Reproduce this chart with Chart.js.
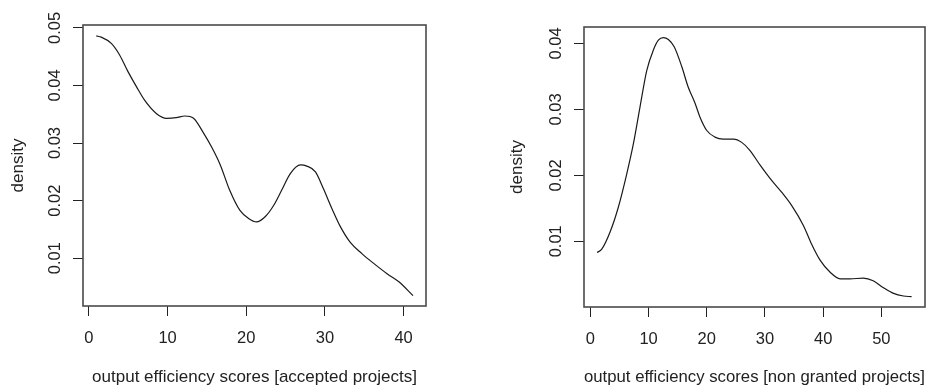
<!DOCTYPE html>
<html lang="en">
<head>
    <meta charset="UTF-8">
    <title>Output efficiency densities</title>
    <script src="https://cdn.jsdelivr.net/npm/chart.js"></script>
    <style>
        body {
            margin: 0;
            background: #fff;
            width: 931px;
            height: 389px;
            overflow: hidden;
        }
        #leftBox, #rightBox {
            position: absolute;
            top: 0;
        }
        #leftBox { left: 0; }
        #rightBox { left: 465px; }
    </style>
</head>
<body>
    <div id="leftBox"><canvas id="leftChart" width="465" height="389"></canvas></div>
    <div id="rightBox"><canvas id="rightChart" width="466" height="389"></canvas></div>

    <script>
        // accepted projects (density curve)
        const xLeft = [0.94, 1.57, 2.85, 3.9, 4.97, 6.04, 7.1, 8.6, 9.86, 11.1, 12.2, 13.3, 14.5, 15.6, 16.7, 17.9,
            19.2, 20.3, 21.3, 22.4, 23.5, 24.5, 25.6, 26.9, 27.7, 28.8, 29.8, 30.9, 32.0, 33.2, 34.7, 36.2, 37.9, 39.4, 41.2];
        const yLeft = [0.0486, 0.0484, 0.0473, 0.0453, 0.0424, 0.0398, 0.0374, 0.0351, 0.0343, 0.0344, 0.0347, 0.0343,
            0.0319, 0.0293, 0.0262, 0.0218, 0.0183, 0.0169, 0.0163, 0.0172, 0.0192, 0.0218, 0.0247, 0.0262, 0.0260,
            0.0250, 0.0221, 0.0186, 0.0154, 0.0128, 0.0108, 0.0091, 0.0073, 0.0059, 0.0035];

        // non granted projects
        const xRight = [1.15, 1.95, 3.38, 4.81, 6.24, 7.39, 8.53, 9.68, 10.82, 11.68, 12.54, 13.4, 14.4, 15.7, 16.8,
            18.0, 18.8, 20.0, 21.4, 22.85, 24.6, 26.0, 27.4, 29.2, 30.9, 32.9, 34.6, 36.6, 38.0, 39.5, 41.2, 42.9,
            44.6, 46.9, 48.6, 50.3, 52.1, 53.8, 55.2];
        const yRight = [0.0083, 0.0088, 0.0114, 0.0152, 0.0202, 0.0248, 0.0304, 0.0359, 0.0390, 0.0405, 0.0409, 0.0406,
            0.0395, 0.0365, 0.0334, 0.0309, 0.0289, 0.0268, 0.0258, 0.0255, 0.0255, 0.0250, 0.0238, 0.0215, 0.0195,
            0.0174, 0.0154, 0.0124, 0.0096, 0.0071, 0.0053, 0.0043, 0.0043, 0.0044, 0.0040, 0.0030, 0.0021, 0.0017, 0.0016];

        const xTicksLeft = [0, 10, 20, 30, 40];
        const yTicksLeft = [0.01, 0.02, 0.03, 0.04, 0.05];
        const xTicksRight = [0, 10, 20, 30, 40, 50];
        const yTicksRight = [0.01, 0.02, 0.03, 0.04];

        const xTitleLeft = 'output efficiency scores [accepted projects]';
        const xTitleRight = 'output efficiency scores [non granted projects]';
        const yTitle = 'density';

        const fontFam = '"Liberation Sans", Arial, sans-serif';
        const ink = '#222';

        // box round the plot area, like R's box()
        const boxPlugin = {
            id: 'box',
            afterDatasetsDraw(chart) {
                const a = chart.chartArea;
                const ctx = chart.ctx;
                ctx.save();
                ctx.strokeStyle = '#4a4a4a';
                ctx.lineWidth = 1.6;
                ctx.strokeRect(a.left, a.top, a.right - a.left, a.bottom - a.top);
                ctx.restore();
            }
        };

        function makeChart(id, xs, ys, xTicks, yTicks, xTitle, lim, pad, yWidth, xHeight) {
            const pts = xs.map((x, i) => ({ x: x, y: ys[i] }));
            return new Chart(document.getElementById(id), {
                type: 'line',
                data: {
                    datasets: [{
                        data: pts,
                        borderColor: '#1a1a1a',
                        borderWidth: 1.2,
                        pointRadius: 0,
                        tension: 0.4,
                        cubicInterpolationMode: 'monotone',
                        fill: false
                    }]
                },
                options: {
                    responsive: false,
                    animation: false,
                    events: [],
                    layout: { padding: pad },
                    plugins: { legend: { display: false }, tooltip: { enabled: false } },
                    scales: {
                        x: {
                            type: 'linear',
                            min: lim.xmin,
                            max: lim.xmax,
                            afterBuildTicks: s => { s.ticks = xTicks.map(v => ({ value: v })); },
                            afterFit: s => { s.height = xHeight; },
                            border: { display: false },
                            grid: { drawOnChartArea: false, tickLength: 10, color: ink, lineWidth: 1 },
                            ticks: {
                                color: ink,
                                padding: 13,
                                maxRotation: 0,
                                font: { family: fontFam, size: 16.5 },
                                callback: v => String(v)
                            },
                            title: {
                                display: true,
                                text: xTitle,
                                color: ink,
                                padding: { top: 0, bottom: 0 },
                                font: { family: fontFam, size: 17 }
                            }
                        },
                        y: {
                            type: 'linear',
                            min: lim.ymin,
                            max: lim.ymax,
                            afterBuildTicks: s => { s.ticks = yTicks.map(v => ({ value: v })); },
                            afterFit: s => { s.width = yWidth; },
                            border: { display: false },
                            grid: { drawOnChartArea: false, tickLength: 10, color: ink, lineWidth: 1 },
                            ticks: {
                                color: ink,
                                padding: 1.5,
                                minRotation: 90,
                                maxRotation: 90,
                                crossAlign: 'center',
                                font: { family: fontFam, size: 16.5 },
                                callback: v => v.toFixed(2)
                            },
                            title: {
                                display: true,
                                text: yTitle,
                                color: ink,
                                padding: { top: 0, bottom: 0 },
                                font: { family: fontFam, size: 17 }
                            }
                        }
                    }
                },
                plugins: [boxPlugin]
            });
        }

        makeChart('leftChart', xLeft, yLeft, xTicksLeft, yTicksLeft, xTitleLeft,
            { xmin: -0.75, xmax: 42.85, ymin: 0.0017, ymax: 0.0505 },
            { left: 8.3, right: 39, top: 25, bottom: 1 }, 74.7, 82);

        makeChart('rightChart', xRight, yRight, xTicksRight, yTicksRight, xTitleRight,
            { xmin: -1.1, xmax: 57.5, ymin: 0.00003, ymax: 0.0425 },
            { left: 42.3, right: 6, top: 27, bottom: 1 }, 76.7, 81);
    </script>
</body>
</html>
